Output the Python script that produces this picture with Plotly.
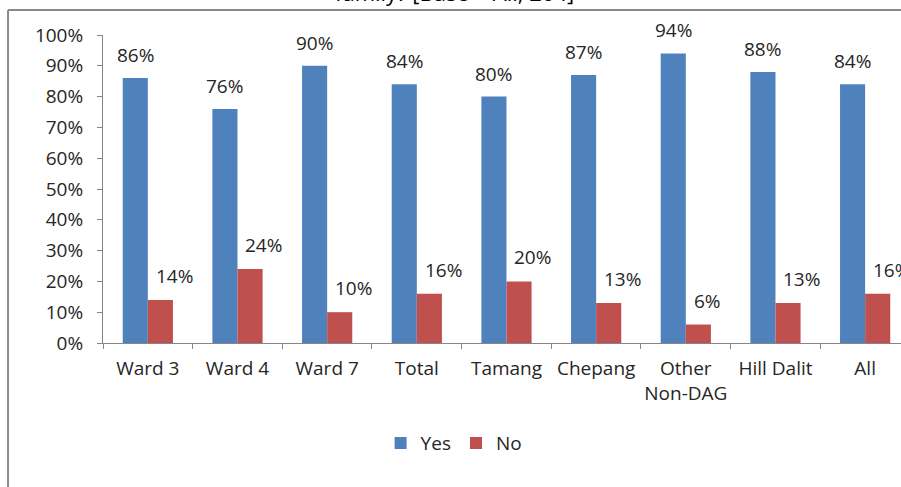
import plotly.graph_objects as go

# Share of households answering Yes / No, by ward and by group
categories = ["Ward 3", "Ward 4", "Ward 7", "Total", "Tamang", "Chepang",
              "Other<br>Non-DAG", "Hill Dalit", "All"]
yes_values = [0.86, 0.76, 0.90, 0.84, 0.80, 0.87, 0.94, 0.88, 0.84]
no_values = [0.14, 0.24, 0.10, 0.16, 0.20, 0.13, 0.06, 0.13, 0.16]
y_ticks = [i / 10 for i in range(11)]
title_text = "family? [Base = All, 204]"

BLUE = "#4F81BD"
RED = "#C0504D"
TEXT = "#262626"
AXIS = "#868686"
FONT = "Open Sans"
SIZE = 19

fig = go.Figure()
fig.add_trace(go.Bar(name="Yes", x=categories, y=yes_values,
                     marker=dict(color=BLUE, line=dict(width=0))))
fig.add_trace(go.Bar(name="No", x=categories, y=no_values,
                     marker=dict(color=RED, line=dict(width=0))))

# value labels above each bar
annotations = []
for cat, v in zip(categories, yes_values):
    annotations.append(dict(x=cat, y=v, xref="x", yref="y", text=f"{round(v*100)}%",
                            showarrow=False, xanchor="center", yanchor="middle",
                            xshift=-12.5, yshift=23,
                            font=dict(family=FONT, size=SIZE, color=TEXT)))
for cat, v in zip(categories, no_values):
    annotations.append(dict(x=cat, y=v, xref="x", yref="y", text=f"{round(v*100)}%",
                            showarrow=False, xanchor="left", yanchor="middle",
                            xshift=6, yshift=24,
                            font=dict(family=FONT, size=SIZE, color=TEXT)))

# heading of the chart, running off the top edge
annotations.append(dict(x=0.44, y=1.138, xref="paper", yref="paper", text=title_text,
                        showarrow=False, xanchor="center", yanchor="middle",
                        font=dict(family=FONT, size=22, color="#000000")))

# outer frame (left and top edges)
shapes = [
    dict(type="line", xref="paper", yref="paper", x0=-0.119, x1=-0.119, y0=1.081, y1=-0.5,
         line=dict(color="#8a8a8a", width=2)),
    dict(type="line", xref="paper", yref="paper", x0=-0.119, x1=1.01, y0=1.081, y1=1.081,
         line=dict(color="#8a8a8a", width=2)),
]

fig.update_layout(
    width=901, height=487,
    margin=dict(l=103, r=0, t=35, b=144, pad=0),
    paper_bgcolor="white", plot_bgcolor="white",
    barmode="group", bargap=0.44, bargroupgap=0,
    font=dict(family=FONT, size=SIZE, color=TEXT),
    showlegend=True,
    legend=dict(orientation="h", x=0.44, xanchor="center", y=-0.325, yanchor="middle",
                font=dict(family=FONT, size=SIZE, color=TEXT),
                itemwidth=30, tracegroupgap=0),
    annotations=annotations,
    shapes=shapes,
)

fig.update_xaxes(range=[-0.5, 8.4], showline=True, linecolor=AXIS, linewidth=1,
                 ticks="outside", ticklen=5, tickcolor=AXIS, tickson="boundaries",
                 ticklabelstandoff=8, tickangle=0,
                 showgrid=False, tickfont=dict(family=FONT, size=SIZE, color=TEXT))
fig.update_yaxes(range=[0, 1], tickvals=y_ticks, tickformat=".0%", showline=True,
                 linecolor=AXIS, linewidth=1, ticks="outside", ticklen=5,
                 tickcolor=AXIS, showgrid=False, zeroline=False,
                 ticklabelstandoff=10,
                 tickfont=dict(family=FONT, size=SIZE, color=TEXT))

fig.write_html("out.html")
